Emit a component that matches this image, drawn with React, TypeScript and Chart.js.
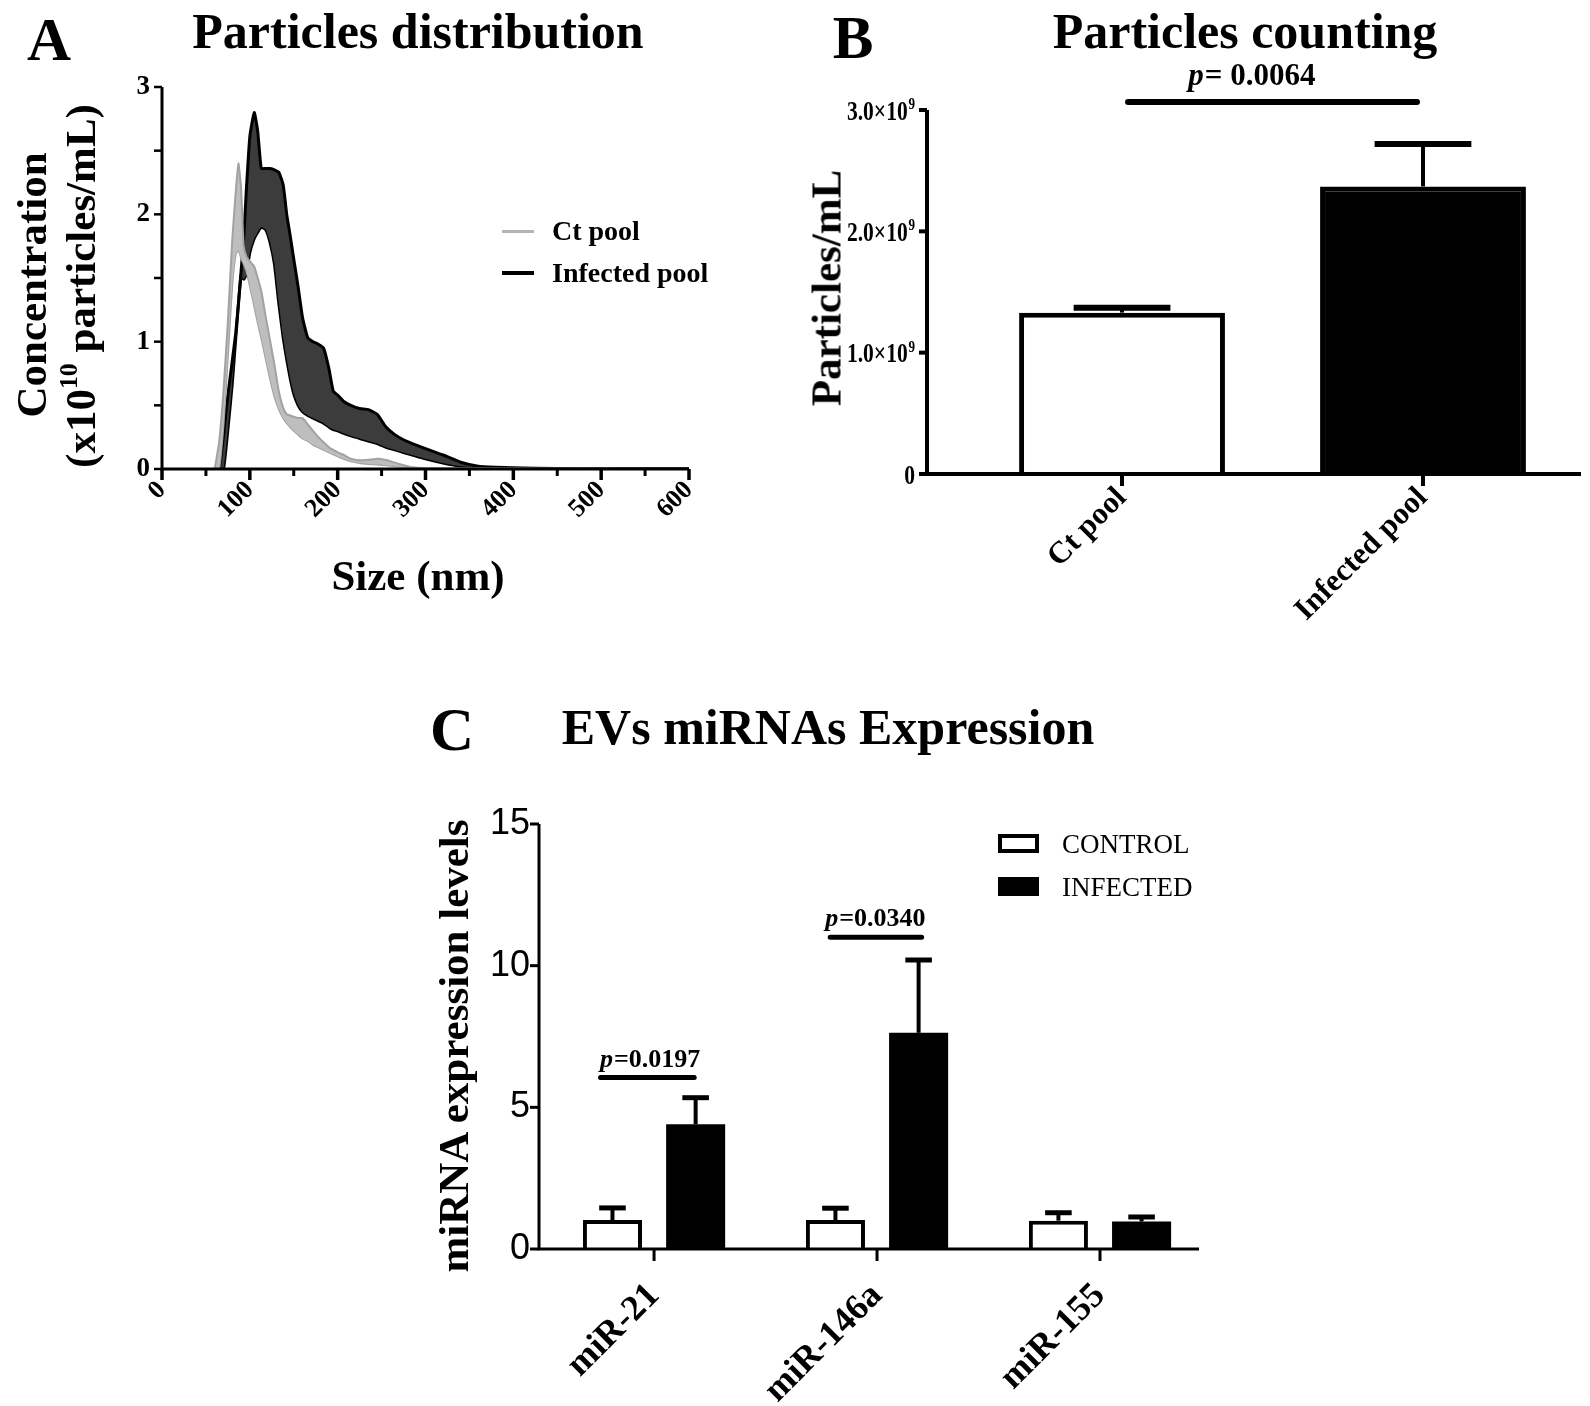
import React, { useEffect, useRef } from 'react';
import { Chart, registerables } from 'chart.js';
Chart.register(...registerables);

const SERIF = "'Liberation Serif', 'Times New Roman', serif";
const SANS = "'Liberation Sans', Arial, sans-serif";

// ---------- Panel A data ----------
const sizeNm = [60, 65, 70, 75, 80, 84, 87, 90, 93, 96, 100, 105, 109, 113, 118, 123, 128, 133, 138, 142, 146, 150, 155, 160, 166, 172, 178, 184, 190, 195, 200, 207, 215, 225, 235, 245, 255, 265, 275, 285, 300, 320, 340, 360, 380, 400, 450, 500, 600];
const ctUpper = [0, 0.21, 0.61, 1.16, 1.8, 2.18, 2.4, 2.21, 1.75, 1.67, 1.63, 1.59, 1.5, 1.4, 1.2, 1.01, 0.82, 0.61, 0.48, 0.43, 0.42, 0.41, 0.4, 0.4, 0.35, 0.3, 0.25, 0.21, 0.17, 0.15, 0.13, 0.11, 0.08, 0.068, 0.072, 0.08, 0.07, 0.05, 0.03, 0.013, 0.006, 0.005, 0.005, 0.005, 0.005, 0.005, 0.004, 0.002, 0];
const ctLower = [0, 0, 0.35, 0.89, 1.45, 1.69, 1.72, 1.66, 1.61, 1.56, 1.44, 1.28, 1.15, 1.03, 0.87, 0.71, 0.57, 0.47, 0.4, 0.36, 0.33, 0.3, 0.27, 0.24, 0.22, 0.19, 0.17, 0.15, 0.13, 0.115, 0.1, 0.08, 0.06, 0.047, 0.04, 0.035, 0.029, 0.022, 0.015, 0.008, 0, 0, 0, 0, 0, 0, 0, 0, 0];
const infUpper = [0, 0, 0.26, 0.58, 0.85, 1.07, 1.3, 1.55, 1.81, 2.19, 2.61, 2.8, 2.65, 2.36, 2.36, 2.36, 2.35, 2.33, 2.23, 2.0, 1.83, 1.65, 1.43, 1.19, 1.03, 1.0, 0.98, 0.95, 0.79, 0.61, 0.58, 0.53, 0.5, 0.475, 0.466, 0.43, 0.33, 0.27, 0.23, 0.2, 0.16, 0.11, 0.053, 0.022, 0.014, 0.01, 0.003, 0, 0];
const infLower = [0, 0, 0, 0.31, 0.67, 1.03, 1.29, 1.52, 1.49, 1.53, 1.7, 1.81, 1.86, 1.9, 1.88, 1.78, 1.61, 1.3, 1.03, 0.86, 0.71, 0.59, 0.5, 0.45, 0.42, 0.4, 0.38, 0.36, 0.33, 0.31, 0.3, 0.28, 0.26, 0.24, 0.22, 0.2, 0.17, 0.15, 0.13, 0.11, 0.08, 0.047, 0.021, 0.009, 0.003, 0, 0, 0, 0];
const sizeMajorTicks = [0, 100, 200, 300, 400, 500, 600];
const sizeMinorTicks = [50, 150, 250, 350, 450, 550];
const concMajorTicks = [0, 1, 2, 3];
const concMinorTicks = [0.5, 1.5, 2.5];

// ---------- Panel B data ----------
const bCategories = ['Ct pool', 'Infected pool'];
const bValues = [1.33e9, 2.37e9];
const bErrors = [0.04e9, 0.35e9];
const bTicks = [0, 1e9, 2e9, 3e9];
const bSig = { from: 1.02, to: 1.98, level: 3.065e9, textAt: 1.43, rest: '= 0.0064' };

// ---------- Panel C data ----------
const cCategories = ['miR-21', 'miR-146a', 'miR-155'];
const cControl = [1.02, 1.02, 1.0];
const cControlErr = [0.43, 0.42, 0.28];
const cInfected = [4.4, 7.63, 0.97];
const cInfectedErr = [0.94, 2.57, 0.16];
const cTicks = [0, 5, 10, 15];
const cSig = [
  { from: -0.24, to: 0.18, level: 6.05, textAt: -0.02, rest: '=0.0197' },
  { from: 0.79, to: 1.2, level: 11.0, textAt: 0.99, rest: '=0.0340' },
];

// ---------- plugins ----------
const axesPlugin = {
  id: 'axesDraw',
  afterDatasetsDraw(chart: any, _a: any, opts: any) {
    if (!opts || !opts.lineWidth) return;
    const { ctx, chartArea } = chart;
    ctx.save();
    ctx.strokeStyle = '#000';
    ctx.lineCap = 'butt';
    ctx.lineWidth = opts.lineWidth;
    const hw = opts.lineWidth / 2;
    ctx.beginPath();
    ctx.moveTo(chartArea.left, chartArea.top);
    ctx.lineTo(chartArea.left, chartArea.bottom + hw);
    ctx.moveTo(chartArea.left - hw, chartArea.bottom);
    ctx.lineTo(chartArea.right, chartArea.bottom);
    ctx.stroke();
    for (const m of opts.marks || []) {
      const sc = chart.scales[m.axis];
      ctx.lineWidth = m.width;
      for (const v of m.values) {
        const p = sc.getPixelForValue(v);
        ctx.beginPath();
        if (m.axis === 'x') {
          ctx.moveTo(p, chartArea.bottom);
          ctx.lineTo(p, chartArea.bottom + m.len);
        } else {
          ctx.moveTo(chartArea.left, p);
          ctx.lineTo(chartArea.left - m.len, p);
        }
        ctx.stroke();
      }
    }
    // condensed y labels with superscript exponent (scientific notation)
    const yl = opts.yLabels;
    if (yl) {
      const ys = chart.scales.y;
      ctx.fillStyle = '#000';
      ctx.textBaseline = 'alphabetic';
      ctx.textAlign = 'left';
      for (const v of yl.values) {
        const py = ys.getPixelForValue(v);
        const main = v === 0 ? '0' : `${(v / yl.unit).toFixed(1)}×10`;
        const sup = v === 0 ? '' : yl.exp;
        ctx.font = `bold ${yl.size}px ${SERIF}`;
        const wm = ctx.measureText(main).width;
        ctx.font = `bold ${Math.round(yl.size * 0.6)}px ${SERIF}`;
        const ws = sup ? ctx.measureText(sup).width + 1 : 0;
        const total = (wm + ws) * yl.scaleX;
        ctx.save();
        ctx.translate(chartArea.left - yl.offset - total, py + yl.size * 0.34);
        ctx.scale(yl.scaleX, 1);
        ctx.font = `bold ${yl.size}px ${SERIF}`;
        ctx.fillText(main, 0, 0);
        if (sup) {
          ctx.font = `bold ${Math.round(yl.size * 0.6)}px ${SERIF}`;
          ctx.fillText(sup, wm + 1, -yl.size * 0.38);
        }
        ctx.restore();
      }
    }
    ctx.restore();
  },
};

const errorPlugin = {
  id: 'errorBars',
  afterDatasetsDraw(chart: any, _a: any, opts: any) {
    if (!opts || !opts.errors) return;
    const { ctx } = chart;
    const ys = chart.scales.y;
    ctx.save();
    ctx.strokeStyle = '#000';
    ctx.lineCap = 'butt';
    chart.data.datasets.forEach((ds: any, di: number) => {
      const errs = opts.errors[di];
      if (!errs) return;
      const meta = chart.getDatasetMeta(di);
      meta.data.forEach((bar: any, i: number) => {
        const { x, y, width } = bar.getProps(['x', 'y', 'width'], true);
        const raw = ds.data[i];
        const v = typeof raw === 'number' ? raw : raw.y;
        const ep = ys.getPixelForValue(v + errs[i]);
        ctx.lineWidth = opts.width;
        ctx.beginPath();
        ctx.moveTo(x, y);
        ctx.lineTo(x, ep);
        ctx.stroke();
        const cw = width * opts.cap;
        ctx.lineWidth = opts.capWidth;
        ctx.beginPath();
        ctx.moveTo(x - cw / 2, ep);
        ctx.lineTo(x + cw / 2, ep);
        ctx.stroke();
      });
    });
    ctx.restore();
  },
};

const sigPlugin = {
  id: 'sigBars',
  afterDatasetsDraw(chart: any, _a: any, opts: any) {
    if (!opts || !opts.items) return;
    const { ctx } = chart;
    const xs = chart.scales.x;
    const ys = chart.scales.y;
    ctx.save();
    for (const it of opts.items) {
      const x1 = xs.getPixelForValue(it.from);
      const x2 = xs.getPixelForValue(it.to);
      const py = ys.getPixelForValue(it.level);
      ctx.strokeStyle = '#000';
      ctx.lineWidth = opts.lineWidth;
      ctx.lineCap = 'round';
      ctx.beginPath();
      ctx.moveTo(x1, py);
      ctx.lineTo(x2, py);
      ctx.stroke();
      const fi = `italic bold ${opts.size}px ${SERIF}`;
      const fb = `bold ${opts.size}px ${SERIF}`;
      ctx.font = fi;
      const w1 = ctx.measureText('p').width;
      ctx.font = fb;
      const w2 = ctx.measureText(it.rest).width;
      const cx = xs.getPixelForValue(it.textAt);
      const start = cx - (w1 + w2) / 2;
      const by = py - opts.gap;
      ctx.fillStyle = '#000';
      ctx.textAlign = 'left';
      ctx.textBaseline = 'alphabetic';
      ctx.font = fi;
      ctx.fillText('p', start, by);
      ctx.font = fb;
      ctx.fillText(it.rest, start + w1 + 1, by);
    }
    ctx.restore();
  },
};

// ---------- configs ----------
const band = (vals: number[], border: string, fillColor: string | undefined, bw: number, fill: any) => ({
  data: sizeNm.map((x, i) => ({ x, y: vals[i] })),
  borderColor: border,
  backgroundColor: fillColor || 'transparent',
  borderWidth: bw,
  fill,
  pointRadius: 0,
  tension: 0.15,
});

const tickFont = (size: number, weight: any = 'bold', family = SERIF) => ({ family, size, weight });

const configA = () => ({
  type: 'line',
  data: {
    datasets: [
      band(ctUpper, '#a2a2a2', '#bebebe', 2, '+1'),
      band(ctLower, '#a2a2a2', undefined, 2, false),
      band(infUpper, '#000000', '#3c3c3c', 3, '+1'),
      band(infLower, '#000000', undefined, 3, false),
    ],
  },
  options: {
    responsive: false,
    animation: false,
    layout: { padding: { left: 0, top: 87, right: 31, bottom: 0 } },
    plugins: {
      legend: { display: false },
      tooltip: { enabled: false },
      axesDraw: {
        lineWidth: 3,
        marks: [
          { axis: 'x', values: sizeMajorTicks, len: 11, width: 3.5 },
          { axis: 'x', values: sizeMinorTicks, len: 7, width: 3 },
          { axis: 'y', values: concMajorTicks, len: 8, width: 2.5 },
          { axis: 'y', values: concMinorTicks, len: 8, width: 2.5 },
        ],
      },
    },
    scales: {
      x: {
        type: 'linear',
        min: 0,
        max: 600,
        grid: { display: false, drawTicks: false },
        border: { display: false },
        ticks: { stepSize: 100, minRotation: 45, maxRotation: 45, color: '#000', font: tickFont(26), padding: 6 },
        afterFit: (s: any) => { s.height = 131; },
      },
      y: {
        min: 0,
        max: 3,
        grid: { display: false, drawTicks: false },
        border: { display: false },
        ticks: { stepSize: 1, color: '#000', font: tickFont(27), padding: 12 },
        afterFit: (s: any) => { s.width = 162; },
      },
    },
  },
  plugins: [axesPlugin],
});

const configB = () => ({
  type: 'bar',
  data: {
    datasets: [
      {
        data: bValues.map((v, i) => ({ x: i + 1, y: v })),
        backgroundColor: ['#ffffff', '#000000'],
        borderColor: '#000000',
        borderWidth: 5,
        borderSkipped: 'bottom',
        barPercentage: 0.684,
        categoryPercentage: 1,
      },
    ],
  },
  options: {
    responsive: false,
    animation: false,
    layout: { padding: { left: 0, top: 50, right: 9, bottom: 0 } },
    plugins: {
      legend: { display: false },
      tooltip: { enabled: false },
      axesDraw: {
        lineWidth: 4,
        marks: [
          { axis: 'x', values: [1, 2], len: 12, width: 4 },
          { axis: 'y', values: bTicks, len: 8, width: 4 },
        ],
        yLabels: { values: bTicks, unit: 1e9, exp: '9', size: 28, scaleX: 0.77, offset: 12 },
      },
      errorBars: { errors: [bErrors], width: 4, capWidth: 6, cap: 0.47 },
      sigBars: { items: [bSig], lineWidth: 6, size: 31, gap: 17 },
    },
    scales: {
      x: {
        type: 'linear',
        min: 0.352,
        max: 2.525,
        offset: false,
        grid: { display: false, drawTicks: false },
        border: { display: false },
        afterBuildTicks: (s: any) => { s.ticks = [{ value: 1 }, { value: 2 }]; },
        ticks: {
          autoSkip: false,
          minRotation: 45,
          maxRotation: 45,
          color: '#000',
          font: tickFont(31),
          padding: 6,
          callback: (v: any) => bCategories[Math.round(v) - 1] || '',
        },
        afterFit: (s: any) => { s.height = 186; },
      },
      y: {
        min: 0,
        max: 3e9,
        grid: { display: false, drawTicks: false },
        border: { display: false },
        afterBuildTicks: (s: any) => { s.ticks = bTicks.map((value) => ({ value })); },
        ticks: { display: false },
        afterFit: (s: any) => { s.width = 147; },
      },
    },
  },
  plugins: [axesPlugin, errorPlugin, sigPlugin],
});

const configC = () => ({
  type: 'bar',
  data: {
    datasets: [
      {
        label: 'CONTROL',
        data: cControl.map((v, i) => ({ x: i, y: v })),
        backgroundColor: '#ffffff',
        borderColor: '#000000',
        borderWidth: 4,
        borderSkipped: 'bottom',
        barPercentage: 0.71,
        categoryPercentage: 0.746,
      },
      {
        label: 'INFECTED',
        data: cInfected.map((v, i) => ({ x: i, y: v })),
        backgroundColor: '#000000',
        borderColor: '#000000',
        borderWidth: 0,
        barPercentage: 0.71,
        categoryPercentage: 0.746,
      },
    ],
  },
  options: {
    responsive: false,
    animation: false,
    layout: { padding: { left: 0, top: 64, right: 21, bottom: 0 } },
    plugins: {
      legend: { display: false },
      tooltip: { enabled: false },
      axesDraw: {
        lineWidth: 3,
        marks: [
          { axis: 'x', values: [0, 1, 2], len: 12, width: 3 },
          { axis: 'y', values: cTicks, len: 9, width: 3 },
        ],
      },
      errorBars: { errors: [cControlErr, cInfectedErr], width: 4, capWidth: 5, cap: 0.45 },
      sigBars: { items: cSig, lineWidth: 5, size: 26, gap: 11 },
    },
    scales: {
      x: {
        type: 'linear',
        min: -0.516,
        max: 2.444,
        offset: false,
        grid: { display: false, drawTicks: false },
        border: { display: false },
        afterBuildTicks: (s: any) => { s.ticks = [{ value: 0 }, { value: 1 }, { value: 2 }]; },
        ticks: {
          autoSkip: false,
          minRotation: 45,
          maxRotation: 45,
          color: '#000',
          font: tickFont(36),
          padding: 26,
          callback: (v: any) => cCategories[Math.round(v)] || '',
        },
        afterFit: (s: any) => { s.height = 157; },
      },
      y: {
        min: 0,
        max: 15,
        grid: { display: false, drawTicks: false },
        border: { display: false },
        afterBuildTicks: (s: any) => { s.ticks = cTicks.map((value) => ({ value })); },
        ticks: { color: '#000', font: tickFont(36, 'normal', SANS), padding: 9 },
        afterFit: (s: any) => { s.width = 139; },
      },
    },
  },
  plugins: [axesPlugin, errorPlugin, sigPlugin],
});

// ---------- components ----------
function ChartBox({ left, top, width, height, make }: any) {
  const ref = useRef<HTMLCanvasElement>(null);
  useEffect(() => {
    const chart = new Chart(ref.current as HTMLCanvasElement, make() as any);
    return () => chart.destroy();
  }, []);
  return <canvas ref={ref} width={width} height={height} style={{ position: 'absolute', left, top, width, height }} />;
}

function Txt({ x, y, size, children, rotate = 0, weight = 'bold', family = SERIF }: any) {
  return (
    <div
      style={{
        position: 'absolute',
        left: x,
        top: y,
        transform: `translate(-50%, -50%) rotate(${rotate}deg)`,
        fontFamily: family,
        fontSize: size,
        fontWeight: weight,
        whiteSpace: 'nowrap',
        lineHeight: 1,
        color: '#000',
      }}
    >
      {children}
    </div>
  );
}

function Box({ x, y, w, h, style }: any) {
  return <div style={{ position: 'absolute', left: x, top: y, width: w, height: h, boxSizing: 'border-box', ...style }} />;
}

const legendText = (left: number, top: number, size: number, bold: boolean) => ({
  position: 'absolute' as const,
  left,
  top,
  transform: 'translateY(-50%)',
  fontFamily: SERIF,
  fontWeight: bold ? 'bold' : 'normal',
  fontSize: size,
  lineHeight: 1,
  whiteSpace: 'nowrap' as const,
});

export default function App() {
  return (
    <div style={{ position: 'absolute', left: 0, top: 0, width: 1590, height: 1406, background: '#fff', overflow: 'hidden' }}>
      <ChartBox left={0} top={0} width={720} height={600} make={configA} />
      <ChartBox left={780} top={60} width={810} height={600} make={configB} />
      <ChartBox left={400} top={760} width={820} height={646} make={configC} />

      {/* Panel A texts */}
      <Txt x={49} y={39} size={61}>A</Txt>
      <Txt x={418} y={31} size={50}>Particles distribution</Txt>
      <Txt x={31} y={285} size={43} rotate={-90}>Concentration</Txt>
      <Txt x={79} y={286} size={43} rotate={-90}>
        (x10<sup style={{ fontSize: '0.6em', verticalAlign: '0.7em' }}>10</sup> particles/mL)
      </Txt>
      <Txt x={418} y={575} size={43}>Size (nm)</Txt>
      <Box x={502} y={230} w={32} h={3} style={{ background: '#b4b4b4' }} />
      <Box x={502} y={271} w={32} h={4} style={{ background: '#000' }} />
      <div style={legendText(552, 231, 28, true)}>Ct pool</div>
      <div style={legendText(552, 273, 28, true)}>Infected pool</div>

      {/* Panel B texts */}
      <Txt x={853} y={37} size={61}>B</Txt>
      <Txt x={1245} y={31} size={50}>Particles counting</Txt>
      <Txt x={826} y={288} size={43} rotate={-90}>Particles/mL</Txt>

      {/* Panel C texts */}
      <Txt x={452} y={729} size={61}>C</Txt>
      <Txt x={828} y={727} size={50}>EVs miRNAs Expression</Txt>
      <Txt x={453} y={1046} size={43} rotate={-90}>miRNA expression levels</Txt>
      <Box x={998} y={834} w={41} h={19} style={{ border: '4px solid #000', background: '#fff' }} />
      <Box x={998} y={877} w={41} h={19} style={{ background: '#000' }} />
      <div style={legendText(1062, 844, 27, false)}>CONTROL</div>
      <div style={legendText(1062, 887, 27, false)}>INFECTED</div>
    </div>
  );
}
